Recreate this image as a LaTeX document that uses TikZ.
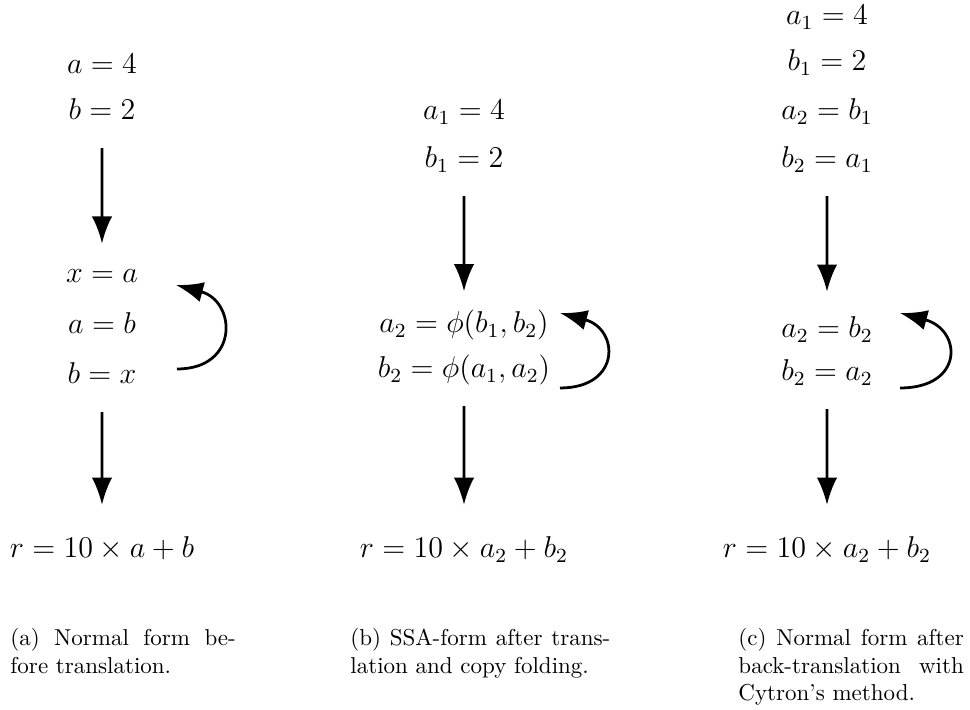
\documentclass[tikz,border=0pt]{standalone}
\usetikzlibrary{arrows.meta}
\tikzset{
  stmt/.style={font=\large,scale=1.09,transform shape,inner sep=0pt,text height=8pt,text depth=2pt},
  flow/.style={-{Latex[length=11.8pt,width=8.9pt]},very thick,shorten <=10pt},
  subcap/.style={anchor=north west,inner sep=0pt,text width=98pt,align=justify}
}
\begin{document}
\begin{tikzpicture}[x=0.4348pt,y=0.4348pt]
\useasboundingbox (0,0) rectangle (970,710);
% Spalte (a): Normalform
\node[stmt] (a1) at (102,644) {$a = 4$};
\node[stmt] (a2) at (102,598) {$b = 2$};
\node[stmt] (a3) at (102,435) {$x = a$};
\node[stmt] (a4) at (102,384) {$a = b$};
\node[stmt] (a5) at (102,334) {$b = x$};
\node[stmt] (a6) at (102,160) {$r = 10 \times a + b$};
% Spalte (b): SSA-Form
\node[stmt] (b1) at (464,598) {$a_1 = 4$};
\node[stmt] (b2) at (464,550) {$b_1 = 2$};
\node[stmt] (b3) at (464,385) {$a_2 = \phi(b_1, b_2)$};
\node[stmt] (b4) at (464,340) {$b_2 = \phi(a_1, a_2)$};
\node[stmt] (b5) at (464,160) {$r = 10 \times a_2 + b_2$};
% Spalte (c): Rueckuebersetzung
\node[stmt] (c1) at (827,693) {$a_1 = 4$};
\node[stmt] (c2) at (827,647) {$b_1 = 2$};
\node[stmt] (c3) at (827,598) {$a_2 = b_1$};
\node[stmt] (c4) at (827,550) {$b_2 = a_1$};
\node[stmt] (c5) at (827,380) {$a_2 = b_2$};
\node[stmt] (c6) at (827,337) {$b_2 = a_2$};
\node[stmt] (c7) at (827,160) {$r = 10 \times a_2 + b_2$};
% Enden der Schleifenpfeile
\coordinate (la0) at (177,341);
\coordinate (la1) at (176,425);
\coordinate (lb0) at (560,322);
\coordinate (lb1) at (560,397);
\coordinate (lc0) at (900,322);
\coordinate (lc1) at (900,397);
% Kontrollfluss
\draw[flow,shorten >=8pt] (a2) -- (a3);
\draw[flow,shorten >=14pt] (a5) -- (a6);
\draw[flow,shorten >=9pt] (b2) -- (b3);
\draw[flow,shorten >=14pt] (b4) -- (b5);
\draw[flow,shorten >=11pt] (c4) -- (c5);
\draw[flow,shorten >=14pt] (c6) -- (c7);
% Schleifen
\draw[flow,shorten <=0pt] (la0) to[out=0,in=-15,looseness=1.9] (la1);
\draw[flow,shorten <=0pt] (lb0) to[out=0,in=-15,looseness=2.1] (lb1);
\draw[flow,shorten <=0pt] (lc0) to[out=0,in=-15,looseness=2.2] (lc1);
% Unterschriften
\node[subcap] (capa) at (10,82) {(a) Normal form be-\linebreak fore translation.};
\node[subcap,text width=113pt] (capb) at (350,82) {(b) SSA-form after trans-\linebreak lation and copy folding.};
\node[subcap] (capc) at (738,82) {(c) Normal form after\linebreak back-translation with\linebreak Cytron's method.};
\end{tikzpicture}
\end{document}
